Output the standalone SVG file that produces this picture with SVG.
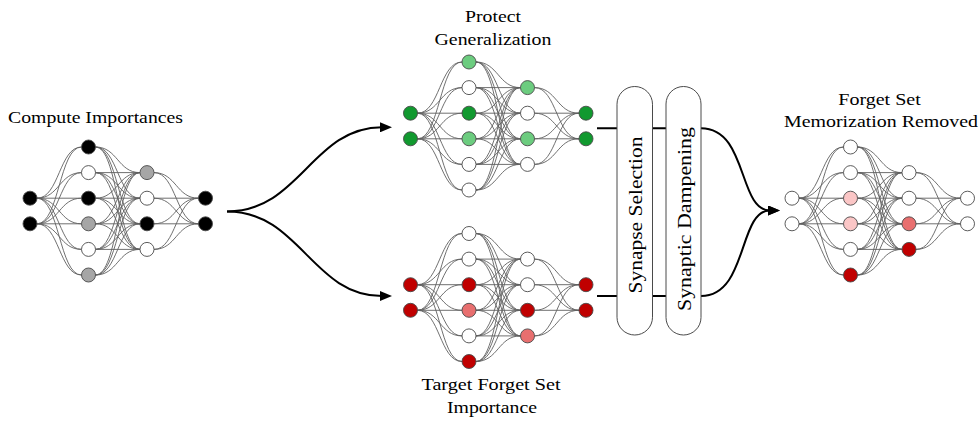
<svg xmlns="http://www.w3.org/2000/svg" xmlns:xlink="http://www.w3.org/1999/xlink" width="979" height="422" viewBox="0 0 979 422">
<style>
.edge{fill:none;stroke:#606060;stroke-width:0.9}
.n circle{stroke:#4a4a4a;stroke-width:0.9}
.w{fill:#ffffff}.k{fill:#000000}.g{fill:#a6a6a6}
.dg{fill:#11992f}.lg{fill:#6ccc7f}
.dr{fill:#c00000}.mr{fill:#e86f6f}.pk{fill:#fbc6c6}
.lbl{font-family:"Liberation Serif","DejaVu Serif",serif;font-size:17px;fill:#000;text-anchor:middle}
.pl{font-family:"Liberation Serif","DejaVu Serif",serif;font-size:18.5px;fill:#000;text-anchor:middle}
.flow{fill:none;stroke:#000;stroke-width:2}
.pill{fill:#fff;stroke:#4a4a4a;stroke-width:1}
</style>
<defs>
<marker id="ah" markerUnits="userSpaceOnUse" viewBox="0 0 12 10" markerWidth="12" markerHeight="10" refX="2" refY="5" orient="auto">
<path d="M0 0L12 5L0 10z" fill="#000"/>
</marker>
<path id="edges" class="edge" d="
M7-12.8C29.25-12.8 29.25-64 51.5-64M7-12.8C29.25-12.8 29.25-38.4 51.5-38.4M7-12.8H51.5M7-12.8C29.25-12.8 29.25 12.8 51.5 12.8M7-12.8C29.25-12.8 29.25 38.4 51.5 38.4M7-12.8C29.25-12.8 29.25 64 51.5 64
M7 12.8C29.25 12.8 29.25-64 51.5-64M7 12.8C29.25 12.8 29.25-38.4 51.5-38.4M7 12.8C29.25 12.8 29.25-12.8 51.5-12.8M7 12.8H51.5M7 12.8C29.25 12.8 29.25 38.4 51.5 38.4M7 12.8C29.25 12.8 29.25 64 51.5 64
M65.5-64C87.75-64 87.75-38.4 110-38.4M65.5-64C87.75-64 87.75-12.8 110-12.8M65.5-64C87.75-64 87.75 12.8 110 12.8M65.5-64C87.75-64 87.75 38.4 110 38.4
M65.5-38.4H110M65.5-38.4C87.75-38.4 87.75-12.8 110-12.8M65.5-38.4C87.75-38.4 87.75 12.8 110 12.8M65.5-38.4C87.75-38.4 87.75 38.4 110 38.4
M65.5-12.8C87.75-12.8 87.75-38.4 110-38.4M65.5-12.8H110M65.5-12.8C87.75-12.8 87.75 12.8 110 12.8M65.5-12.8C87.75-12.8 87.75 38.4 110 38.4
M65.5 12.8C87.75 12.8 87.75-38.4 110-38.4M65.5 12.8C87.75 12.8 87.75-12.8 110-12.8M65.5 12.8H110M65.5 12.8C87.75 12.8 87.75 38.4 110 38.4
M65.5 38.4C87.75 38.4 87.75-38.4 110-38.4M65.5 38.4C87.75 38.4 87.75-12.8 110-12.8M65.5 38.4C87.75 38.4 87.75 12.8 110 12.8M65.5 38.4H110
M65.5 64C87.75 64 87.75-38.4 110-38.4M65.5 64C87.75 64 87.75-12.8 110-12.8M65.5 64C87.75 64 87.75 12.8 110 12.8M65.5 64C87.75 64 87.75 38.4 110 38.4
M124-38.4C146.25-38.4 146.25-12.8 168.5-12.8M124-38.4C146.25-38.4 146.25 12.8 168.5 12.8
M124-12.8H168.5M124-12.8C146.25-12.8 146.25 12.8 168.5 12.8
M124 12.8C146.25 12.8 146.25-12.8 168.5-12.8M124 12.8H168.5
M124 38.4C146.25 38.4 146.25-12.8 168.5-12.8M124 38.4C146.25 38.4 146.25 12.8 168.5 12.8"/>
</defs>

<g id="connectors">
<path class="flow" d="M227 211.5C300 211.5 312 127.3 382 127.3" marker-end="url(#ah)"/>
<path class="flow" d="M227 211.5C300 211.5 312 296 382 296" marker-end="url(#ah)"/>
<path class="flow" d="M597 128.3H617M652.5 128.3H666"/>
<path class="flow" d="M597 296H617M652.5 296H666"/>
<path class="flow" d="M701 128.3C748 128.3 738 210.5 770 210.5" marker-end="url(#ah)"/>
<path class="flow" d="M701 296C748 296 738 210.5 770 210.5" marker-end="url(#ah)"/>
</g>

<g id="net-compute" class="n" transform="translate(30,211)">
<use xlink:href="#edges"/>
<circle class="k" cx="0" cy="-12.8" r="7"/><circle class="k" cx="0" cy="12.8" r="7"/>
<circle class="k" cx="58.5" cy="-64" r="7"/><circle class="w" cx="58.5" cy="-38.4" r="7"/><circle class="k" cx="58.5" cy="-12.8" r="7"/><circle class="g" cx="58.5" cy="12.8" r="7"/><circle class="w" cx="58.5" cy="38.4" r="7"/><circle class="g" cx="58.5" cy="64" r="7"/>
<circle class="g" cx="117" cy="-38.4" r="7"/><circle class="w" cx="117" cy="-12.8" r="7"/><circle class="k" cx="117" cy="12.8" r="7"/><circle class="w" cx="117" cy="38.4" r="7"/>
<circle class="k" cx="175.5" cy="-12.8" r="7"/><circle class="k" cx="175.5" cy="12.8" r="7"/>
</g>

<g id="net-protect" class="n" transform="translate(410.5,126)">
<use xlink:href="#edges"/>
<circle class="dg" cx="0" cy="-12.8" r="7"/><circle class="dg" cx="0" cy="12.8" r="7"/>
<circle class="lg" cx="58.5" cy="-64" r="7"/><circle class="w" cx="58.5" cy="-38.4" r="7"/><circle class="dg" cx="58.5" cy="-12.8" r="7"/><circle class="lg" cx="58.5" cy="12.8" r="7"/><circle class="w" cx="58.5" cy="38.4" r="7"/><circle class="w" cx="58.5" cy="64" r="7"/>
<circle class="lg" cx="117" cy="-38.4" r="7"/><circle class="w" cx="117" cy="-12.8" r="7"/><circle class="lg" cx="117" cy="12.8" r="7"/><circle class="w" cx="117" cy="38.4" r="7"/>
<circle class="dg" cx="175.5" cy="-12.8" r="7"/><circle class="dg" cx="175.5" cy="12.8" r="7"/>
</g>

<g id="net-target" class="n" transform="translate(410.5,297.5)">
<use xlink:href="#edges"/>
<circle class="dr" cx="0" cy="-12.8" r="7"/><circle class="dr" cx="0" cy="12.8" r="7"/>
<circle class="w" cx="58.5" cy="-64" r="7"/><circle class="w" cx="58.5" cy="-38.4" r="7"/><circle class="dr" cx="58.5" cy="-12.8" r="7"/><circle class="mr" cx="58.5" cy="12.8" r="7"/><circle class="w" cx="58.5" cy="38.4" r="7"/><circle class="dr" cx="58.5" cy="64" r="7"/>
<circle class="w" cx="117" cy="-38.4" r="7"/><circle class="w" cx="117" cy="-12.8" r="7"/><circle class="dr" cx="117" cy="12.8" r="7"/><circle class="mr" cx="117" cy="38.4" r="7"/>
<circle class="dr" cx="175.5" cy="-12.8" r="7"/><circle class="dr" cx="175.5" cy="12.8" r="7"/>
</g>

<g id="net-removed" class="n" transform="translate(792,211)">
<use xlink:href="#edges"/>
<circle class="w" cx="0" cy="-12.8" r="7"/><circle class="w" cx="0" cy="12.8" r="7"/>
<circle class="w" cx="58.5" cy="-64" r="7"/><circle class="w" cx="58.5" cy="-38.4" r="7"/><circle class="pk" cx="58.5" cy="-12.8" r="7"/><circle class="pk" cx="58.5" cy="12.8" r="7"/><circle class="w" cx="58.5" cy="38.4" r="7"/><circle class="dr" cx="58.5" cy="64" r="7"/>
<circle class="w" cx="117" cy="-38.4" r="7"/><circle class="w" cx="117" cy="-12.8" r="7"/><circle class="mr" cx="117" cy="12.8" r="7"/><circle class="dr" cx="117" cy="38.4" r="7"/>
<circle class="w" cx="175.5" cy="-12.8" r="7"/><circle class="w" cx="175.5" cy="12.8" r="7"/>
</g>

<g id="pill-selection">
<rect class="pill" x="617" y="86.5" width="35.5" height="248.5" rx="17.75"/>
<text class="pl" transform="translate(641.5,215) rotate(-90)" textLength="157" lengthAdjust="spacingAndGlyphs">Synapse Selection</text>
</g>
<g id="pill-dampening">
<rect class="pill" x="666" y="86.5" width="35" height="248.5" rx="17.5"/>
<text class="pl" transform="translate(690.5,219) rotate(-90)" textLength="184" lengthAdjust="spacingAndGlyphs">Synaptic Dampening</text>
</g>

<g id="labels">
<text class="lbl" x="95.5" y="123" textLength="175" lengthAdjust="spacingAndGlyphs">Compute Importances</text>
<text class="lbl" x="493" y="22" textLength="56" lengthAdjust="spacingAndGlyphs">Protect</text>
<text class="lbl" x="493" y="44.5" textLength="117" lengthAdjust="spacingAndGlyphs">Generalization</text>
<text class="lbl" x="491" y="390" textLength="139" lengthAdjust="spacingAndGlyphs">Target Forget Set</text>
<text class="lbl" x="492" y="413" textLength="90" lengthAdjust="spacingAndGlyphs">Importance</text>
<text class="lbl" x="879.5" y="105" textLength="82.5" lengthAdjust="spacingAndGlyphs">Forget Set</text>
<text class="lbl" x="881" y="127" textLength="194" lengthAdjust="spacingAndGlyphs">Memorization Removed</text>
</g>
</svg>
